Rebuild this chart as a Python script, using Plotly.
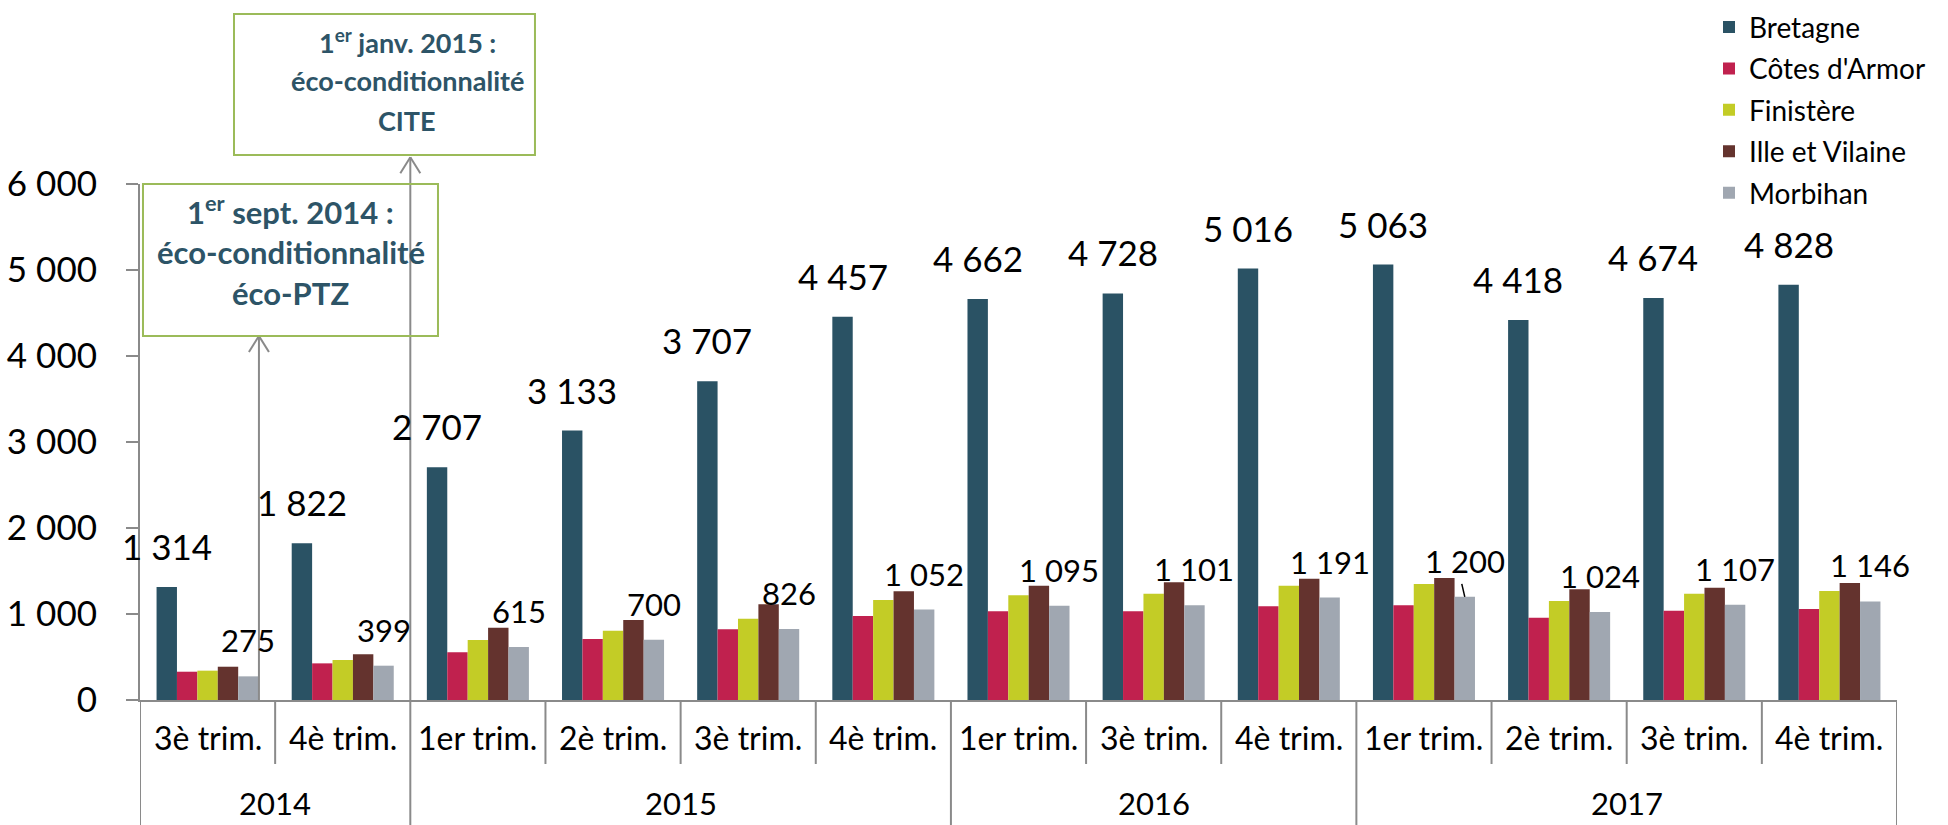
import plotly.graph_objects as go

years = ["2014", "2014", "2015", "2015", "2015", "2015", "2016", "2016", "2016", "2017", "2017", "2017", "2017"]
quarters = ["3è trim.", "4è trim.", "1er trim.", "2è trim.", "3è trim.", "4è trim.",
            "1er trim.", "3è trim.", "4è trim.", "1er trim.", "2è trim.", "3è trim.", "4è trim."]

bretagne = [1314, 1822, 2707, 3133, 3707, 4457, 4662, 4728, 5016, 5063, 4418, 4674, 4828]
cotes = [329, 426, 554, 709, 822, 977, 1031, 1031, 1089, 1101, 957, 1039, 1058]
finistere = [341, 465, 698, 806, 946, 1163, 1217, 1236, 1329, 1349, 1151, 1236, 1267]
ille = [387, 531, 841, 930, 1113, 1264, 1329, 1368, 1411, 1419, 1287, 1306, 1360]
morbihan = [275, 399, 615, 700, 826, 1052, 1095, 1101, 1191, 1200, 1024, 1107, 1146]

series_names = ["Bretagne", "Côtes d'Armor", "Finistère", "Ille et Vilaine", "Morbihan"]
series_values = [bretagne, cotes, finistere, ille, morbihan]
colors = ["#2A5264", "#C0214E", "#C3CC26", "#64332E", "#A0A7B1"]

y_ticks = [0, 1000, 2000, 3000, 4000, 5000, 6000]

FONT = "Lato"
AXIS_GRAY = "#8A8A8A"
BOX_GREEN = "#9BBB59"
BOX_TEXT = "#2D5467"

BARGAP = 0.245
n_series = len(series_names)
bar_w = (1 - BARGAP) / n_series
idx = list(range(len(quarters)))

fig = go.Figure()
for k, (name, vals, col) in enumerate(zip(series_names, series_values, colors)):
    fig.add_trace(go.Bar(x=idx, y=vals, name=name, legendgroup=f"g{k}",
                         marker=dict(color=col, line=dict(width=0))))


def fmt(v):
    return f"{v:,}".replace(",", " ")


annotations = []
# Bretagne labels (first series) and Morbihan labels (last series)
for i, v in zip(idx, bretagne):
    annotations.append(dict(x=i + (0 - 2) * bar_w, y=v, xref="x", yref="y", text=fmt(v),
                            showarrow=False, xanchor="center", yanchor="middle", yshift=41,
                            font=dict(family=FONT, size=35, color="#000000")))
for i, v in zip(idx, morbihan):
    annotations.append(dict(x=i + (4 - 2) * bar_w, y=v, xref="x", yref="y", text=fmt(v),
                            showarrow=False, xanchor="center", yanchor="middle", yshift=36,
                            font=dict(family=FONT, size=31, color="#000000")))

# category labels (quarters)
for i, q in zip(idx, quarters):
    annotations.append(dict(x=i, y=-0.072, xref="x", yref="paper", text=q, showarrow=False,
                            xanchor="center", yanchor="middle",
                            font=dict(family=FONT, size=32, color="#000000")))

# year labels, centred on their groups
groups = []
for i, yv in zip(idx, years):
    if groups and groups[-1][0] == yv:
        groups[-1][2] = i
    else:
        groups.append([yv, i, i])
for yv, a, b in groups:
    annotations.append(dict(x=(a + b) / 2, y=-0.2395, xref="x", yref="paper", text=yv, showarrow=False,
                            xanchor="center", yanchor="bottom",
                            font=dict(family=FONT, size=31, color="#000000")))

# boxes text
box1_lines = ["1<sup>er</sup> janv. 2015 :", "éco-conditionnalité", "CITE"]
box2_lines = ["1<sup>er</sup> sept. 2014 :", "éco-conditionnalité", "éco-PTZ"]
for k, t in enumerate(box1_lines):
    annotations.append(dict(x=0.152, y=1.2772 - k * 0.0775, xref="paper", yref="paper", text="<b>" + t + "</b>",
                            showarrow=False, xanchor="center", yanchor="middle",
                            font=dict(family=FONT, size=27, color=BOX_TEXT)))
for k, t in enumerate(box2_lines):
    annotations.append(dict(x=0.0857, y=0.9477 - k * 0.0795, xref="paper", yref="paper", text="<b>" + t + "</b>",
                            showarrow=False, xanchor="center", yanchor="middle",
                            font=dict(family=FONT, size=31, color=BOX_TEXT)))

shapes = []
bottom = -0.2422
inner_bottom = -0.124
# group boundaries (full height)
boundaries_outer = [-0.5] + [b + 0.5 for _, _, b in groups]
for xb in boundaries_outer:
    shapes.append(dict(type="line", xref="x", yref="paper", x0=xb, x1=xb, y0=0, y1=bottom,
                       line=dict(color=AXIS_GRAY, width=2)))
# inner boundaries
outer_set = set(boundaries_outer)
for i in idx[:-1]:
    xb = i + 0.5
    if xb not in outer_set:
        shapes.append(dict(type="line", xref="x", yref="paper", x0=xb, x1=xb, y0=0, y1=inner_bottom,
                           line=dict(color=AXIS_GRAY, width=2)))

# arrow lines
arrow1_x = 1.5
arrow1_top = 1.052
arrow2_x = 0.38
arrow2_top = 0.7054
shapes.append(dict(type="line", xref="x", yref="paper", x0=arrow1_x, x1=arrow1_x, y0=0, y1=arrow1_top,
                   line=dict(color=AXIS_GRAY, width=2)))
shapes.append(dict(type="line", xref="x", yref="paper", x0=arrow2_x, x1=arrow2_x, y0=0, y1=arrow2_top,
                   line=dict(color=AXIS_GRAY, width=2)))
for ax, ay in [(arrow1_x, arrow1_top), (arrow2_x, arrow2_top)]:
    for sx in (-10, 10):
        shapes.append(dict(type="line", xref="x", yref="paper", xsizemode="pixel", ysizemode="pixel",
                           xanchor=ax, yanchor=ay, x0=sx, y0=-16, x1=0, y1=0,
                           line=dict(color=AXIS_GRAY, width=2)))

# leader line for the 1 200 label
shapes.append(dict(type="line", xref="x", yref="y", xsizemode="pixel", ysizemode="pixel",
                   xanchor=9 + 2 * bar_w, yanchor=1200, x0=0, y0=0, x1=-3, y1=13,
                   line=dict(color="#000000", width=1.5)))

# text boxes
shapes.append(dict(type="rect", xref="paper", yref="paper", x0=0.0535, x1=0.2248, y0=1.0562, y1=1.3295,
                   line=dict(color=BOX_GREEN, width=2), fillcolor="rgba(0,0,0,0)"))
shapes.append(dict(type="rect", xref="paper", yref="paper", x0=0.0017, x1=0.1696, y0=0.7054, y1=1.0,
                   line=dict(color=BOX_GREEN, width=2), fillcolor="rgba(0,0,0,0)"))

fig.update_layout(
    width=1948, height=825,
    margin=dict(l=140, r=51, t=184, b=125, pad=0, autoexpand=False),
    barmode="group", bargap=BARGAP, bargroupgap=0,
    plot_bgcolor="white", paper_bgcolor="white",
    separators=", ",
    font=dict(family=FONT, color="#000000"),
    legend=dict(x=0.893, y=1.352, xanchor="left", yanchor="top", bgcolor="rgba(0,0,0,0)",
                font=dict(family=FONT, size=28, color="#000000"), tracegroupgap=2, itemwidth=30),
    annotations=annotations,
    shapes=shapes,
    showlegend=True,
)
fig.update_xaxes(range=[-0.5, 12.5], showticklabels=False, ticks="", showgrid=False, zeroline=False,
                 showline=True, linecolor=AXIS_GRAY, linewidth=2)
fig.update_yaxes(range=[0, 6000], tickvals=y_ticks, tickformat=",", showgrid=False, zeroline=False,
                 showline=True, linecolor=AXIS_GRAY, linewidth=2, ticks="outside", ticklen=12,
                 tickcolor=AXIS_GRAY, tickwidth=2, ticklabelstandoff=22,
                 tickfont=dict(family=FONT, size=35, color="#000000"))

fig.write_html(
    "out.html",
    config={"displayModeBar": False},
    post_script="document.body.style.margin='0px';document.documentElement.style.overflow='hidden';",
)
